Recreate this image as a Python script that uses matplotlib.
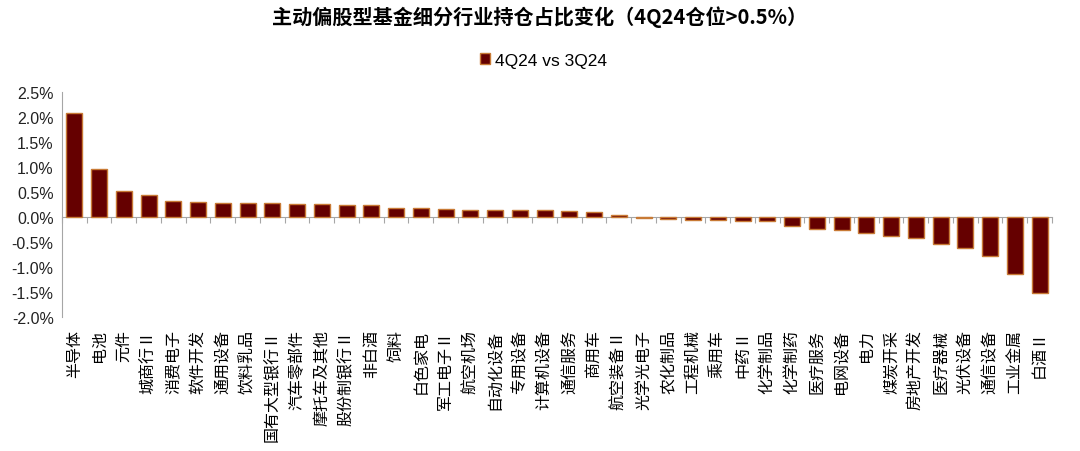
import numpy as np
import matplotlib
matplotlib.use('Agg')
import matplotlib.pyplot as plt
from matplotlib.ticker import FuncFormatter

# 字体设置
plt.rcParams['font.family'] = ['Liberation Sans', 'Noto Sans CJK SC', 'DejaVu Sans']
plt.rcParams['axes.unicode_minus'] = False

# 数据
industries = ['半导体', '电池', '元件', '城商行Ⅱ', '消费电子', '软件开发', '通用设备', '饮料乳品',
              '国有大型银行Ⅱ', '汽车零部件', '摩托车及其他', '股份制银行Ⅱ', '非白酒', '饲料', '白色家电',
              '军工电子Ⅱ', '航空机场', '自动化设备', '专用设备', '计算机设备', '通信服务', '商用车',
              '航空装备Ⅱ', '光学光电子', '农化制品', '工程机械', '乘用车', '中药Ⅱ', '化学制品', '化学制药',
              '医疗服务', '电网设备', '电力', '煤炭开采', '房地产开发', '医疗器械', '光伏设备', '通信设备',
              '工业金属', '白酒Ⅱ']
change = [2.08, 0.96, 0.52, 0.44, 0.33, 0.30, 0.29, 0.29, 0.28, 0.27, 0.26, 0.24, 0.24, 0.19,
          0.18, 0.16, 0.15, 0.14, 0.14, 0.14, 0.13, 0.10, 0.05, -0.03, -0.05, -0.06, -0.07, -0.09,
          -0.09, -0.19, -0.25, -0.26, -0.32, -0.39, -0.43, -0.55, -0.62, -0.78, -1.15, -1.52]
series_name = '4Q24 vs 3Q24'

fig = plt.figure(figsize=(10.8, 4.52), dpi=100)
ax = fig.add_axes([0.0574, 0.2965, 0.9166, 0.4977])

x = np.arange(len(industries))
ax.bar(x, change, width=0.65, color='#650000', edgecolor='#C87A35', linewidth=1.0,
       label=series_name, zorder=3)

ax.set_xlim(-0.5, len(industries) - 0.5)
ax.set_ylim(-2.0, 2.5)
ax.set_yticks(np.arange(-2.0, 2.51, 0.5))
ax.yaxis.set_major_formatter(FuncFormatter(lambda v, p: f'{v:.1f}%'))
ax.tick_params(axis='y', length=0, labelsize=11.5, pad=6, colors='#222222')

# 坐标轴样式
for s in ['top', 'right']:
    ax.spines[s].set_visible(False)
ax.spines['left'].set_color('#A6A6A6')
ax.spines['bottom'].set_color('#A6A6A6')
ax.spines['bottom'].set_position(('data', 0))
ax.set_xticks(np.arange(-0.5, len(industries), 1.0))
ax.set_xticklabels([])
ax.tick_params(axis='x', length=4, color='#A6A6A6', direction='out')

# 类别标签（旋转90度）
for i, name in enumerate(industries):
    ax.annotate(name, xy=(i, 0), xycoords=('data', 'axes fraction'),
                xytext=(0, -9), textcoords='offset points', ha='center', va='top',
                rotation=90, fontsize=11.5, family=['Noto Sans CJK SC', 'DejaVu Sans'])

# 标题与图例
fig.text(0.5, 0.962, '主动偏股型基金细分行业持仓占比变化（4Q24仓位>0.5%）', ha='center', va='center',
         fontsize=14.5, fontweight='bold', family=['Noto Sans CJK SC', 'DejaVu Sans'])
fig.legend(loc='center', bbox_to_anchor=(0.503, 0.865), frameon=False, fontsize=12.5,
           handlelength=0.6, handleheight=0.6, handletextpad=0.25)

fig.savefig('out.png', dpi=100)
